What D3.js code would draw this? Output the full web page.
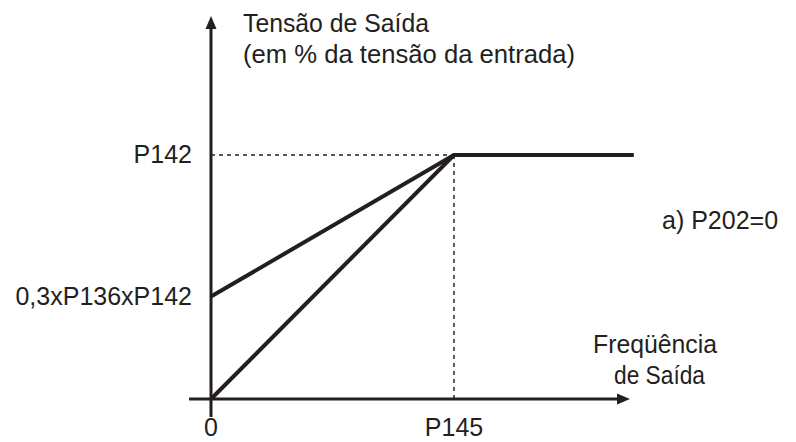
<!DOCTYPE html>
<html>
<head>
<meta charset="utf-8">
<script src="https://cdn.jsdelivr.net/npm/d3@7"></script>
<style>
  body { margin: 0; background: #fff; }
  svg text { font-family: "Liberation Sans", Arial, sans-serif; fill: #231f20; font-size: 25px; }
</style>
</head>
<body>
<svg id="chart" width="796" height="442"></svg>
<script>
// values (x in units of P145, y in units of P142)
const xTickLabels = ['0', 'P145'];
const xTickValues = [0, 1];
const yTickLabels = ['0,3xP136xP142', 'P142'];
const yTickValues = [0.42, 1];
const linearCurve = [[0, 0], [1, 1], [1.74, 1]];
const boostCurve = [[0, 0.42], [1, 1]];

const svg = d3.select('#chart');
const ink = '#231f20';

const x = d3.scaleLinear().domain([0, 1]).range([211, 454]);
const y = d3.scaleLinear().domain([0, 1]).range([399, 155]);

// axes
const axisX0 = x(0) - 22, axisX1 = 630;
const axisY0 = y(0) + 18, axisY1 = 16;

svg.append('line')
    .attr('x1', axisX0).attr('y1', y(0))
    .attr('x2', axisX1 - 10).attr('y2', y(0))
    .attr('stroke', ink).attr('stroke-width', 3);
svg.append('path')
    .attr('d', `M${axisX1},${y(0)} L${axisX1 - 13},${y(0) - 5.5} L${axisX1 - 13},${y(0) + 5.5} Z`)
    .attr('fill', ink);

svg.append('line')
    .attr('x1', x(0)).attr('y1', axisY0)
    .attr('x2', x(0)).attr('y2', axisY1 + 10)
    .attr('stroke', ink).attr('stroke-width', 3);
svg.append('path')
    .attr('d', `M${x(0)},${axisY1} L${x(0) - 5.5},${axisY1 + 13} L${x(0) + 5.5},${axisY1 + 13} Z`)
    .attr('fill', ink);

// dashed guides
svg.append('line')
    .attr('x1', x(0)).attr('y1', y(1))
    .attr('x2', x(1)).attr('y2', y(1))
    .attr('stroke', ink).attr('stroke-width', 1.5)
    .attr('stroke-dasharray', '4,4');
svg.append('line')
    .attr('x1', x(1)).attr('y1', y(1))
    .attr('x2', x(1)).attr('y2', y(0))
    .attr('stroke', ink).attr('stroke-width', 1.5)
    .attr('stroke-dasharray', '4,4');

// curves
const line = d3.line().x(d => x(d[0])).y(d => y(d[1]));

svg.append('path')
    .datum(boostCurve)
    .attr('d', line)
    .attr('fill', 'none')
    .attr('stroke', ink)
    .attr('stroke-width', 4);

svg.append('path')
    .datum(linearCurve)
    .attr('d', line)
    .attr('fill', 'none')
    .attr('stroke', ink)
    .attr('stroke-width', 4)
    .attr('stroke-linejoin', 'miter');

// tick labels
svg.selectAll('text.xtick')
    .data(xTickValues)
    .join('text')
    .attr('class', 'xtick')
    .attr('x', d => x(d))
    .attr('y', 436)
    .attr('text-anchor', 'middle')
    .text((d, i) => xTickLabels[i]);

svg.selectAll('text.ytick')
    .data(yTickValues)
    .join('text')
    .attr('class', 'ytick')
    .attr('x', 192)
    .attr('y', d => y(d) + 8)
    .attr('text-anchor', 'end')
    .text((d, i) => yTickLabels[i]);

// axis titles (the source face is tighter in some words, so widths are pinned)
svg.append('text').attr('x', 243).attr('y', 32)
    .attr('textLength', 186).attr('lengthAdjust', 'spacingAndGlyphs')
    .text('Tensão de Saída');
svg.append('text').attr('x', 243).attr('y', 63)
    .attr('textLength', 332).attr('lengthAdjust', 'spacingAndGlyphs')
    .text('(em % da tensão da entrada)');

svg.append('text').attr('x', 593).attr('y', 353)
    .attr('textLength', 124).attr('lengthAdjust', 'spacingAndGlyphs')
    .text('Freqüência');
svg.append('text').attr('x', 614).attr('y', 384)
    .attr('textLength', 91).attr('lengthAdjust', 'spacingAndGlyphs')
    .text('de Saída');

svg.append('text')
    .attr('x', 662)
    .attr('y', 229)
    .text('a) P202=0');
</script>
</body>
</html>
